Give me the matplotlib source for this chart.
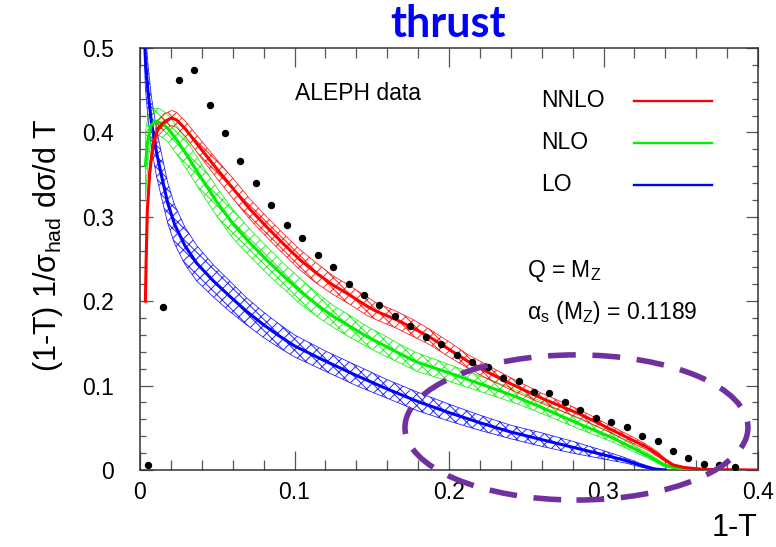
import numpy as np
import matplotlib
matplotlib.use("Agg")
import matplotlib.pyplot as plt
from matplotlib.patches import Ellipse
from matplotlib.ticker import MultipleLocator, FuncFormatter

plt.rcParams['font.family'] = ['Liberation Sans', 'DejaVu Sans']
plt.rcParams['mathtext.fontset'] = 'custom'
plt.rcParams['mathtext.rm'] = 'Liberation Sans'
plt.rcParams['mathtext.it'] = 'Liberation Sans:italic'
plt.rcParams['hatch.linewidth'] = 0.7

# ALEPH data points
data_x = [0.005, 0.015, 0.025, 0.035, 0.045, 0.055, 0.065, 0.075, 0.085, 0.095,
          0.105, 0.115, 0.125, 0.135, 0.145, 0.155, 0.165, 0.175, 0.185, 0.195,
          0.205, 0.215, 0.225, 0.235, 0.245, 0.255, 0.265, 0.275, 0.285, 0.295,
          0.305, 0.315, 0.325, 0.335, 0.345, 0.355, 0.365, 0.375, 0.385]
data_y = [0.006, 0.193, 0.462, 0.474, 0.432, 0.399, 0.366, 0.340, 0.314, 0.290,
          0.275, 0.255, 0.240, 0.220, 0.207, 0.196, 0.183, 0.171, 0.158, 0.149,
          0.136, 0.128, 0.122, 0.109, 0.105, 0.092, 0.091, 0.081, 0.071, 0.062,
          0.0565, 0.051, 0.040, 0.034, 0.0225, 0.0146, 0.0075, 0.0055, 0.0036]

# NNLO
nnlo_x = [0.0035, 0.004, 0.0047, 0.0063, 0.0084, 0.0117, 0.016, 0.0203, 0.0235, 0.029,
          0.0375, 0.0496, 0.0604, 0.0712, 0.082, 0.0928, 0.1036, 0.1144, 0.125, 0.136,
          0.147, 0.153, 0.166, 0.177, 0.188, 0.200, 0.212, 0.225, 0.2416, 0.26,
          0.285, 0.306, 0.317, 0.328, 0.334, 0.339, 0.345, 0.352, 0.36, 0.37,
          0.40]
nnlo_y = [0.20, 0.25, 0.306, 0.353, 0.385, 0.405, 0.413, 0.417, 0.415, 0.405,
          0.385, 0.357, 0.333, 0.309, 0.288, 0.268, 0.249, 0.233, 0.219, 0.207,
          0.194, 0.188, 0.178, 0.168, 0.157, 0.143, 0.129, 0.116, 0.1007, 0.085,
          0.066, 0.047, 0.037, 0.027, 0.020, 0.013, 0.006, 0.003, 0.0015, 0.0005,
          0.0]
nnlo_err = [0.0, 0.01, 0.01, 0.009, 0.009, 0.009, 0.009, 0.009, 0.009, 0.009,
            0.010, 0.011, 0.012, 0.012, 0.012, 0.012, 0.012, 0.012, 0.011, 0.011,
            0.011, 0.010, 0.010, 0.010, 0.009, 0.009, 0.008, 0.008, 0.007, 0.006,
            0.005, 0.004, 0.004, 0.003, 0.003, 0.002, 0.001, 0.0005, 0.0, 0.0,
            0.0]

# NLO
nlo_x = [0.0035, 0.0052, 0.0073, 0.0106, 0.0138, 0.018, 0.0246, 0.031, 0.0375, 0.0496,
         0.0604, 0.0712, 0.082, 0.0928, 0.1036, 0.1144, 0.125, 0.136, 0.147, 0.1575,
         0.168, 0.179, 0.1985, 0.225, 0.2416, 0.26, 0.285, 0.306, 0.328, 0.339,
         0.35, 0.36, 0.37]
nlo_y = [0.361, 0.393, 0.409, 0.413, 0.411, 0.405, 0.389, 0.371, 0.352, 0.318,
         0.291, 0.269, 0.249, 0.230, 0.212, 0.196, 0.182, 0.170, 0.158, 0.148,
         0.138, 0.128, 0.116, 0.099, 0.088, 0.074, 0.054, 0.038, 0.0178, 0.006,
         0.001, 0.0, 0.0]
nlo_err = [0.04, 0.026, 0.017, 0.016, 0.016, 0.016, 0.017, 0.017, 0.017, 0.017,
           0.017, 0.016, 0.016, 0.015, 0.015, 0.014, 0.013, 0.013, 0.012, 0.012,
           0.011, 0.011, 0.010, 0.009, 0.008, 0.007, 0.006, 0.005, 0.003, 0.002,
           0.001, 0.0, 0.0]

# LO
lo_x = [0.003, 0.0035, 0.0052, 0.0073, 0.0106, 0.014, 0.018, 0.0224, 0.029, 0.0367,
        0.0475, 0.058, 0.069, 0.08, 0.09, 0.10, 0.12, 0.14, 0.16, 0.18,
        0.20, 0.22, 0.24, 0.26, 0.28, 0.30, 0.315, 0.325, 0.333, 0.34]
lo_y = [0.51, 0.486, 0.448, 0.413, 0.377, 0.348, 0.316, 0.291, 0.266, 0.245,
        0.224, 0.206, 0.188, 0.172, 0.159, 0.147, 0.129, 0.112, 0.096, 0.081,
        0.068, 0.056, 0.045, 0.036, 0.027, 0.018, 0.011, 0.005, 0.0012, 0.0]
lo_err = [0.034, 0.034, 0.032, 0.03, 0.028, 0.026, 0.024, 0.023, 0.022, 0.021,
          0.019, 0.018, 0.016, 0.015, 0.014, 0.013, 0.012, 0.012, 0.011, 0.011,
          0.010, 0.009, 0.008, 0.008, 0.007, 0.005, 0.003, 0.002, 0.001, 0.0]

RED, GREEN, BLUE = '#ff0000', '#00ee00', '#0000ff'

fig = plt.figure(figsize=(7.76, 5.47), dpi=100)
ax = fig.add_axes([140/776, 77/547, 618/776, 422/547])

for xs, ys, es, c in [(lo_x, lo_y, lo_err, BLUE),
                      (nlo_x, nlo_y, nlo_err, GREEN),
                      (nnlo_x, nnlo_y, nnlo_err, RED)]:
    xs = np.array(xs); ys = np.array(ys); es = np.array(es)
    ax.fill_between(xs, ys - es, ys + es, facecolor='none', edgecolor=c,
                    hatch='xxx', linewidth=0.6, alpha=0.85, zorder=2)
    ax.plot(xs, ys, color=c, lw=2.2, zorder=3, solid_joinstyle='round')

ax.plot(data_x, data_y, 'o', color='black', ms=4.3, zorder=4)

ax.set_xlim(0, 0.4)
ax.set_ylim(0, 0.5)
ax.xaxis.set_major_locator(MultipleLocator(0.1))
ax.xaxis.set_minor_locator(MultipleLocator(0.02))
ax.yaxis.set_major_locator(MultipleLocator(0.1))
ax.yaxis.set_minor_locator(MultipleLocator(0.02))
fmt = FuncFormatter(lambda v, p: f"{v:g}")
ax.xaxis.set_major_formatter(fmt)
ax.yaxis.set_major_formatter(fmt)
ax.tick_params(which='both', direction='in', top=True, right=True,
               color='#555555', width=0.9, labelsize=16.5)
ax.tick_params(axis='x', which='major', length=14, pad=8)
ax.tick_params(axis='x', which='minor', length=7)
ax.tick_params(axis='y', which='major', length=9, pad=19)
ax.tick_params(axis='y', which='minor', length=4.5)
for s in ax.spines.values():
    s.set_linewidth(1.1)
    s.set_color('#333333')

ax.text(0.1003, 0.446, 'ALEPH data', fontsize=16.5, ha='left', va='center')
ax.text(0.2505, 0.236, r'Q = M$_{\mathrm{Z}}$', fontsize=16.5, ha='left', va='center')
ax.text(0.2505, 0.187, r'α$_{\mathrm{s}}$ (M$_{\mathrm{Z}}$) = 0.1189', fontsize=16.5,
        ha='left', va='center')

# legend, text left and line right
leg_labels = ['NNLO', 'NLO', 'LO']
leg_colors = [RED, GREEN, BLUE]
leg_rows = [0.875, 0.776, 0.676]
for lab, c, yy in zip(leg_labels, leg_colors, leg_rows):
    ax.text(0.649, yy, lab, transform=ax.transAxes, fontsize=16.5,
            ha='left', va='center')
    ax.plot([0.799, 0.926], [yy, yy], transform=ax.transAxes, color=c, lw=1.7)

ell = Ellipse((0.2825, 0.0504), 0.222, 0.172, fill=False, edgecolor='#7030a0',
              lw=4, linestyle=(0, (5, 3)), clip_on=False, zorder=10)
ax.add_patch(ell)

fig.text(757/776, 1 - 528/547, '1-T', fontsize=22, ha='right', va='center')
fig.text(48/776, 1 - 245/547, r'(1-T) 1/σ$_{\mathrm{had}}$ dσ/d T', fontsize=22,
         rotation=90, ha='center', va='center')
fig.text(448/776, 1 - 24/547, 'thrust', fontsize=31, fontweight='bold',
         family='Lato', color='#0000ff', ha='center', va='center')

fig.savefig('out.png', dpi=100)
